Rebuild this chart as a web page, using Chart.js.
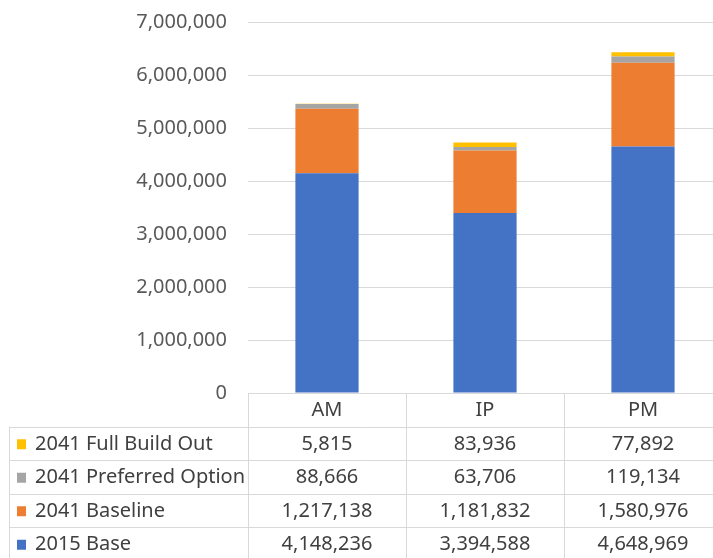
<!DOCTYPE html>
<html>
<head>
<meta charset="utf-8">
<script src="https://cdn.jsdelivr.net/npm/chart.js@4/dist/chart.umd.min.js"></script>
<style>
  html, body { margin: 0; padding: 0; background: #fff; overflow: hidden; }
  #wrap { width: 713px; height: 558px; overflow: hidden; }
</style>
</head>
<body>
<div id="wrap"><canvas id="chart" width="722" height="558"></canvas></div>
<script>
// du lieu doc tu hinh
const periods = ['AM', 'IP', 'PM'];
const base2015 = [4148236, 3394588, 4648969];
const baseline2041 = [1217138, 1181832, 1580976];
const preferred2041 = [88666, 63706, 119134];
const fullBuild2041 = [5815, 83936, 77892];
const seriesNames = ['2015 Base', '2041 Baseline', '2041 Preferred Option', '2041 Full Build Out'];
const seriesColors = ['#4472c4', '#ed7d31', '#a5a5a5', '#ffc000'];
const yTicks = [0, 1000000, 2000000, 3000000, 4000000, 5000000, 6000000, 7000000];

const FONT = '"Noto Sans", sans-serif';
const ROW_H = 33.5;

// ve bang du lieu ben duoi bieu do
const dataTable = {
  id: 'dataTable',
  afterDraw(chart) {
    const ctx = chart.ctx;
    const area = chart.chartArea;
    const x = chart.scales.x;
    const top = area.bottom;
    const left = 9;
    const right = chart.width;
    const n = periods.length;
    const edges = [];
    for (let i = 0; i <= n; i++) {
      edges.push(area.left + (area.right - area.left) * i / n);
    }
    const rows = chart.data.datasets.slice().reverse();
    const bottom = top + ROW_H * (rows.length + 1);

    ctx.save();
    ctx.strokeStyle = '#d9d9d9';
    ctx.lineWidth = 1;
    ctx.beginPath();
    // dong tieu de
    ctx.moveTo(area.left, Math.round(top) + 0.5);
    ctx.lineTo(right, Math.round(top) + 0.5);
    for (let r = 1; r <= rows.length + 1; r++) {
      const yy = Math.round(top + ROW_H * r) + 0.5;
      ctx.moveTo(left, yy);
      ctx.lineTo(right, yy);
    }
    edges.forEach(e => {
      const xx = Math.round(e) + 0.5;
      ctx.moveTo(xx, top);
      ctx.lineTo(xx, bottom);
    });
    ctx.moveTo(left + 0.5, top + ROW_H);
    ctx.lineTo(left + 0.5, bottom);
    ctx.stroke();

    ctx.font = '20px ' + FONT;
    ctx.fillStyle = '#404040';
    ctx.textBaseline = 'middle';
    ctx.textAlign = 'center';
    periods.forEach((p, i) => {
      ctx.fillText(p, x.getPixelForValue(i), top + ROW_H / 2 + 1);
    });

    rows.forEach((ds, r) => {
      const cy = top + ROW_H * (r + 1) + ROW_H / 2 + 1;
      ctx.fillStyle = ds.backgroundColor;
      ctx.fillRect(17, cy - 5, 9, 10);
      ctx.fillStyle = '#404040';
      ctx.textAlign = 'left';
      ctx.fillText(ds.label, 35, cy);
      ctx.textAlign = 'center';
      ds.data.forEach((v, i) => {
        ctx.fillText(v.toLocaleString('en-US'), x.getPixelForValue(i), cy);
      });
    });
    ctx.restore();
  }
};

const seriesData = [base2015, baseline2041, preferred2041, fullBuild2041];

new Chart(document.getElementById('chart').getContext('2d'), {
  type: 'bar',
  data: {
    labels: periods,
    datasets: seriesData.map((d, i) => ({
      label: seriesNames[i],
      data: d,
      backgroundColor: seriesColors[i],
      borderWidth: 0,
      barPercentage: 0.4,
      categoryPercentage: 1
    }))
  },
  options: {
    responsive: false,
    animation: false,
    layout: { padding: { top: 22, bottom: 165, left: 0, right: 0 } },
    plugins: {
      legend: { display: false },
      tooltip: { enabled: false }
    },
    scales: {
      x: { stacked: true, display: false },
      y: {
        stacked: true,
        min: 0,
        max: 7000000,
        afterFit: s => { s.width = 248; s.paddingTop = 0; s.paddingBottom = 0; },
        afterBuildTicks: s => { s.ticks = yTicks.map(v => ({ value: v })); },
        border: { display: false },
        grid: {
          color: c => c.tick.value === 0 ? 'rgba(0,0,0,0)' : '#d9d9d9',
          lineWidth: 1,
          drawTicks: false
        },
        ticks: {
          padding: 21,
          color: '#595959',
          font: { family: FONT, size: 20 },
          callback: v => v.toLocaleString('en-US')
        }
      }
    }
  },
  plugins: [dataTable]
});
</script>
</body>
</html>
